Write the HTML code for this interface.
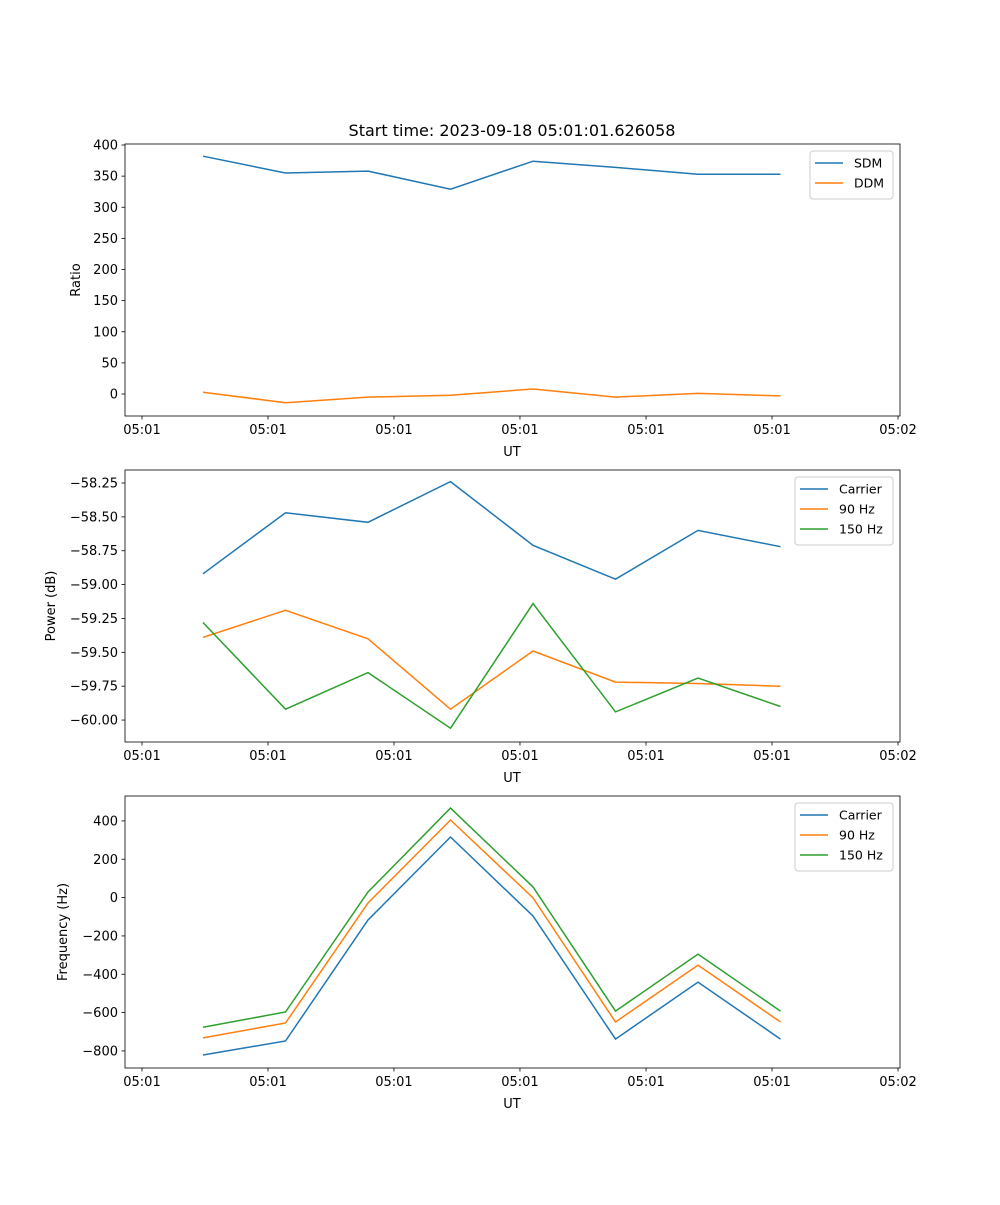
<!DOCTYPE html>
<html><head><meta charset="utf-8">
<style>
body{margin:0;background:#fff;}
svg text{font-family:"DejaVu Sans","Liberation Sans",sans-serif;fill:#000;}
</style></head>
<body>
<svg id="fig" width="1000" height="1200" xmlns="http://www.w3.org/2000/svg">
<rect width="1000" height="1200" fill="#fff"/>
<text x="512" y="136" font-size="16" text-anchor="middle">Start time: 2023-09-18 05:01:01.626058</text>
</svg>
<script>
// Data
const timeIdx = [0,1,2,3,4,5,6,7];
const xTickVals = [-0.739,0.788,2.315,3.842,5.370,6.897,8.424];
const xTickLabels = ["05:01","05:01","05:01","05:01","05:01","05:01","05:02"];
const sdm = [382,355,358,329,374,364,353,353];
const ddm = [3,-14,-5,-2,8,-5,1,-3];
const pwrCarrier = [-58.92,-58.47,-58.54,-58.24,-58.71,-58.96,-58.60,-58.72];
const pwr90 = [-59.39,-59.19,-59.40,-59.92,-59.49,-59.72,-59.73,-59.75];
const pwr150 = [-59.28,-59.92,-59.65,-60.06,-59.14,-59.94,-59.69,-59.90];
const frqCarrier = [-821,-748,-117,316,-96,-738,-441,-738];
const frq90 = [-732,-654,-28,405,-1,-649,-352,-649];
const frq150 = [-676,-597,29,467,56,-592,-295,-592];
const ratioTicks = [0,50,100,150,200,250,300,350,400];
const powerTicks = [-60.00,-59.75,-59.50,-59.25,-59.00,-58.75,-58.50,-58.25];
const freqTicks = [-800,-600,-400,-200,0,200,400];

const NS="http://www.w3.org/2000/svg";
const svg=document.getElementById('fig');
const XMIN=-0.945, XMAX=8.448, L=125, R=900;
const C=['#1f77b4','#ff7f0e','#2ca02c'];
function el(t,a,p){const e=document.createElementNS(NS,t);for(const k in a)e.setAttribute(k,a[k]);(p||svg).appendChild(e);return e;}
function xs(v){return L+(v-XMIN)/(XMAX-XMIN)*(R-L);}

function panel(name,top,ymin,ymax,yticks,fmt,ylabel,series,names,legW){
  const bot=top+272;
  const g=el('g',{});
  
  
  const ys=v=>bot-(v-ymin)/(ymax-ymin)*(bot-top);
  series.forEach((s,i)=>{
    const pts=timeIdx.map((t,j)=>xs(t).toFixed(1)+','+ys(s[j]).toFixed(1)).join(' ');
    const pl=el('polyline',{points:pts,fill:'none',stroke:C[i],'stroke-width':1.5},g);
    
    
  });
  const fr=el('rect',{x:L,y:top,width:R-L,height:bot-top,fill:'none',stroke:'#000','stroke-width':0.8},g);
  
  
  xTickVals.forEach((v,i)=>{
    const x=xs(v);
    el('line',{x1:x,x2:x,y1:bot,y2:bot+3.5,stroke:'#000','stroke-width':0.8},g);
    const t=el('text',{x:x,y:bot+18,'font-size':13,'text-anchor':'middle'},g);
    t.textContent=xTickLabels[i];
    
    
  });
  const xl=el('text',{x:512,y:bot+40,'font-size':13,'text-anchor':'middle'},g);
  xl.textContent='UT';
  
  
  yticks.forEach(v=>{
    const y=ys(v);
    el('line',{x1:L-3.5,x2:L,y1:y,y2:y,stroke:'#000','stroke-width':0.8},g);
    const t=el('text',{x:L-7,y:y+4.5,'font-size':13,'text-anchor':'end'},g);
    t.textContent=fmt(v);
    
    
  });
  const yl=el('text',{x:0,y:0,'font-size':13,'text-anchor':'middle',transform:`translate(${ylabel[1]},${(top+bot)/2}) rotate(-90)`},g);
  yl.textContent=ylabel[0];
  
  
  const lx=R-7-legW, ly=top+7, lh=8+names.length*20;
  const lg=el('g',{},g);
  
  
  el('rect',{x:lx,y:ly,width:legW,height:lh,rx:3,fill:'#fff','fill-opacity':0.8,stroke:'#ccc','stroke-width':1},lg);
  names.forEach((n,i)=>{
    const yy=ly+12+i*20;
    el('line',{x1:lx+5,x2:lx+33,y1:yy,y2:yy,stroke:C[i],'stroke-width':1.5},lg);
    const t=el('text',{x:lx+44,y:yy+4.5,'font-size':12.5},lg);
    t.textContent=n;
    
    
  });
}
panel('ratio',144,-35.3,401.6,ratioTicks,v=>String(v),['Ratio',80],[sdm,ddm],['SDM','DDM'],83);
panel('power',470,-60.162,-58.154,powerTicks,v=>(v<0?'\u2212':'')+Math.abs(v).toFixed(2),['Power (dB)',55],[pwrCarrier,pwr90,pwr150],['Carrier','90 Hz','150 Hz'],98);
panel('frequency',796,-889,530,freqTicks,v=>(v<0?'\u2212':'')+Math.abs(v),['Frequency (Hz)',67],[frqCarrier,frq90,frq150],['Carrier','90 Hz','150 Hz'],98);
</script>
</body></html>
